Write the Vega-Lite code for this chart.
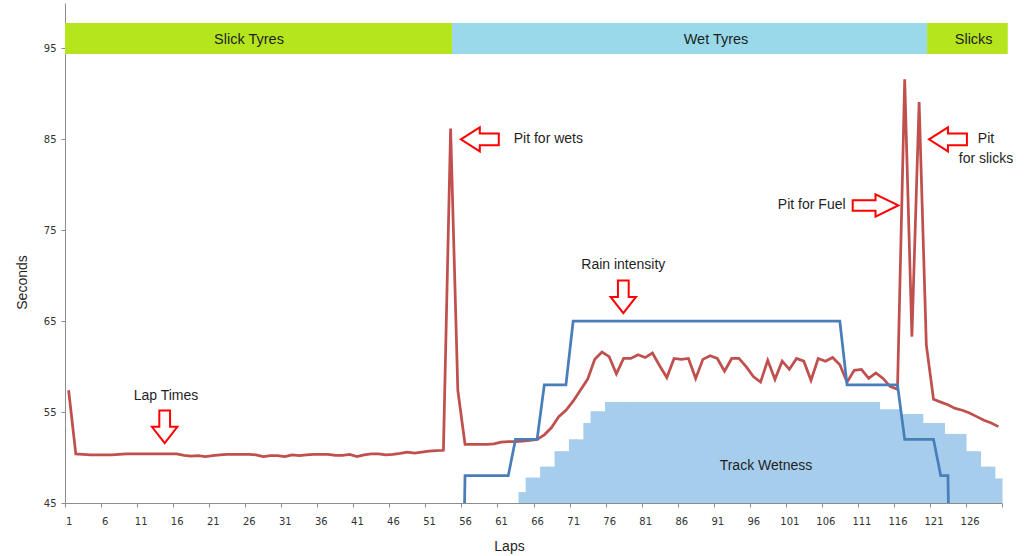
{
  "$schema": "https://vega.github.io/schema/vega-lite/v6.json",
  "width": 937,
  "height": 500,
  "autosize": {"type": "none"},
  "padding": {"left": 65, "top": 3, "right": 23, "bottom": 53},
  "background": "white",
  "config": {"view": {"stroke": null}, "axis": {"grid": false}, "scale": {"continuousPadding": 0}},
  "resolve": {"axis": {"x": "independent", "y": "independent"}},
  "datasets": {
    "laps": [
      {"lap":1,"time":57.4,"rain":0,"wet":null},{"lap":2,"time":50.4,"rain":0,"wet":null},{"lap":3,"time":50.35,"rain":0,"wet":null},{"lap":4,"time":50.3,"rain":0,"wet":null},{"lap":5,"time":50.3,"rain":0,"wet":null},
      {"lap":6,"time":50.3,"rain":0,"wet":null},{"lap":7,"time":50.3,"rain":0,"wet":null},{"lap":8,"time":50.35,"rain":0,"wet":null},{"lap":9,"time":50.4,"rain":0,"wet":null},{"lap":10,"time":50.4,"rain":0,"wet":null},
      {"lap":11,"time":50.4,"rain":0,"wet":null},{"lap":12,"time":50.4,"rain":0,"wet":null},{"lap":13,"time":50.4,"rain":0,"wet":null},{"lap":14,"time":50.4,"rain":0,"wet":null},{"lap":15,"time":50.4,"rain":0,"wet":null},
      {"lap":16,"time":50.4,"rain":0,"wet":null},{"lap":17,"time":50.25,"rain":0,"wet":null},{"lap":18,"time":50.15,"rain":0,"wet":null},{"lap":19,"time":50.2,"rain":0,"wet":null},{"lap":20,"time":50.1,"rain":0,"wet":null},
      {"lap":21,"time":50.2,"rain":0,"wet":null},{"lap":22,"time":50.3,"rain":0,"wet":null},{"lap":23,"time":50.35,"rain":0,"wet":null},{"lap":24,"time":50.35,"rain":0,"wet":null},{"lap":25,"time":50.35,"rain":0,"wet":null},
      {"lap":26,"time":50.35,"rain":0,"wet":null},{"lap":27,"time":50.3,"rain":0,"wet":null},{"lap":28,"time":50.1,"rain":0,"wet":null},{"lap":29,"time":50.2,"rain":0,"wet":null},{"lap":30,"time":50.2,"rain":0,"wet":null},
      {"lap":31,"time":50.1,"rain":0,"wet":null},{"lap":32,"time":50.3,"rain":0,"wet":null},{"lap":33,"time":50.2,"rain":0,"wet":null},{"lap":34,"time":50.3,"rain":0,"wet":null},{"lap":35,"time":50.35,"rain":0,"wet":null},
      {"lap":36,"time":50.35,"rain":0,"wet":null},{"lap":37,"time":50.35,"rain":0,"wet":null},{"lap":38,"time":50.25,"rain":0,"wet":null},{"lap":39,"time":50.25,"rain":0,"wet":null},{"lap":40,"time":50.35,"rain":0,"wet":null},
      {"lap":41,"time":50.1,"rain":0,"wet":null},{"lap":42,"time":50.3,"rain":0,"wet":null},{"lap":43,"time":50.4,"rain":0,"wet":null},{"lap":44,"time":50.4,"rain":0,"wet":null},{"lap":45,"time":50.3,"rain":0,"wet":null},
      {"lap":46,"time":50.35,"rain":0,"wet":null},{"lap":47,"time":50.45,"rain":0,"wet":null},{"lap":48,"time":50.6,"rain":0,"wet":null},{"lap":49,"time":50.5,"rain":0,"wet":null},{"lap":50,"time":50.6,"rain":0,"wet":null},
      {"lap":51,"time":50.7,"rain":0,"wet":null},{"lap":52,"time":50.75,"rain":0,"wet":null},{"lap":53,"time":50.8,"rain":0,"wet":null},{"lap":54,"time":86.2,"rain":0,"wet":null},{"lap":55,"time":57.4,"rain":0,"wet":null},
      {"lap":56,"time":51.45,"rain":48,"wet":null},{"lap":57,"time":51.45,"rain":48,"wet":null},{"lap":58,"time":51.45,"rain":48,"wet":null},{"lap":59,"time":51.45,"rain":48,"wet":null},{"lap":60,"time":51.5,"rain":48,"wet":null},
      {"lap":61,"time":51.7,"rain":48,"wet":null},{"lap":62,"time":51.75,"rain":48,"wet":null},{"lap":63,"time":51.75,"rain":52,"wet":null},{"lap":64,"time":51.8,"rain":52,"wet":46.2},{"lap":65,"time":51.9,"rain":52,"wet":47.8},
      {"lap":66,"time":52.0,"rain":52,"wet":47.8},{"lap":67,"time":52.5,"rain":58,"wet":49.0},{"lap":68,"time":53.3,"rain":58,"wet":49.0},{"lap":69,"time":54.5,"rain":58,"wet":50.7},{"lap":70,"time":55.2,"rain":58,"wet":50.7},
      {"lap":71,"time":56.2,"rain":65,"wet":52.0},{"lap":72,"time":57.4,"rain":65,"wet":52.0},{"lap":73,"time":58.6,"rain":65,"wet":53.8},{"lap":74,"time":60.8,"rain":65,"wet":55.1},{"lap":75,"time":61.6,"rain":65,"wet":55.1},
      {"lap":76,"time":61.1,"rain":65,"wet":56.1},{"lap":77,"time":59.2,"rain":65,"wet":56.1},{"lap":78,"time":60.9,"rain":65,"wet":56.1},{"lap":79,"time":60.9,"rain":65,"wet":56.1},{"lap":80,"time":61.3,"rain":65,"wet":56.1},
      {"lap":81,"time":61.0,"rain":65,"wet":56.1},{"lap":82,"time":61.5,"rain":65,"wet":56.1},{"lap":83,"time":60.1,"rain":65,"wet":56.1},{"lap":84,"time":58.8,"rain":65,"wet":56.1},{"lap":85,"time":60.9,"rain":65,"wet":56.1},
      {"lap":86,"time":60.8,"rain":65,"wet":56.1},{"lap":87,"time":60.9,"rain":65,"wet":56.1},{"lap":88,"time":58.7,"rain":65,"wet":56.1},{"lap":89,"time":60.8,"rain":65,"wet":56.1},{"lap":90,"time":61.2,"rain":65,"wet":56.1},
      {"lap":91,"time":60.9,"rain":65,"wet":56.1},{"lap":92,"time":59.5,"rain":65,"wet":56.1},{"lap":93,"time":60.9,"rain":65,"wet":56.1},{"lap":94,"time":60.9,"rain":65,"wet":56.1},{"lap":95,"time":60.0,"rain":65,"wet":56.1},
      {"lap":96,"time":58.9,"rain":65,"wet":56.1},{"lap":97,"time":58.3,"rain":65,"wet":56.1},{"lap":98,"time":60.7,"rain":65,"wet":56.1},{"lap":99,"time":58.6,"rain":65,"wet":56.1},{"lap":100,"time":60.6,"rain":65,"wet":56.1},
      {"lap":101,"time":59.7,"rain":65,"wet":56.1},{"lap":102,"time":60.9,"rain":65,"wet":56.1},{"lap":103,"time":60.6,"rain":65,"wet":56.1},{"lap":104,"time":58.5,"rain":65,"wet":56.1},{"lap":105,"time":60.9,"rain":65,"wet":56.1},
      {"lap":106,"time":60.6,"rain":65,"wet":56.1},{"lap":107,"time":61.0,"rain":65,"wet":56.1},{"lap":108,"time":60.2,"rain":65,"wet":56.1},{"lap":109,"time":58.3,"rain":58,"wet":56.1},{"lap":110,"time":59.6,"rain":58,"wet":56.1},
      {"lap":111,"time":59.7,"rain":58,"wet":56.1},{"lap":112,"time":58.7,"rain":58,"wet":56.1},{"lap":113,"time":59.3,"rain":58,"wet":56.1},{"lap":114,"time":58.7,"rain":58,"wet":55.3},{"lap":115,"time":57.8,"rain":58,"wet":55.3},
      {"lap":116,"time":57.5,"rain":58,"wet":55.3},{"lap":117,"time":91.6,"rain":52,"wet":54.8},{"lap":118,"time":63.3,"rain":52,"wet":54.8},{"lap":119,"time":89.1,"rain":52,"wet":54.8},{"lap":120,"time":62.4,"rain":52,"wet":53.8},
      {"lap":121,"time":56.4,"rain":52,"wet":53.8},{"lap":122,"time":56.1,"rain":48,"wet":53.8},{"lap":123,"time":55.8,"rain":48,"wet":52.6},{"lap":124,"time":55.4,"rain":0,"wet":52.6},{"lap":125,"time":55.2,"rain":0,"wet":52.6},
      {"lap":126,"time":54.9,"rain":0,"wet":50.7},{"lap":127,"time":54.5,"rain":0,"wet":50.7},{"lap":128,"time":54.1,"rain":0,"wet":49.0},{"lap":129,"time":53.8,"rain":0,"wet":49.0},{"lap":130,"time":53.4,"rain":0,"wet":47.7}
    ],
    "bands": [
      {"tyre":"slick","start":0.5,"end":54.2,"label":"Slick Tyres","mid":26.03},
      {"tyre":"wet","start":54.2,"end":120.1,"label":"Wet Tyres","mid":90.82},
      {"tyre":"slick","start":120.1,"end":131.3,"label":"Slicks","mid":126.57}
    ],
    "notes": [
      {"lap":67.56,"sec":85.0,"text":"Pit for wets"},
      {"lap":77.96,"sec":71.19,"text":"Rain intensity"},
      {"lap":14.51,"sec":56.79,"text":"Lap Times"},
      {"lap":97.75,"sec":49.02,"text":"Track Wetness"},
      {"lap":128.28,"sec":85.03,"text":"Pit"},
      {"lap":128.28,"sec":82.84,"text":"for slicks"},
      {"lap":104.1,"sec":77.78,"text":"Pit for Fuel"}
    ],
    "arrowsLeft": [
      {"lap":58.05,"sec":85.0},
      {"lap":123.0,"sec":85.0}
    ],
    "arrowsDown": [
      {"lap":77.96,"sec":67.67},
      {"lap":14.33,"sec":53.38}
    ],
    "arrowsRight": [
      {"lap":112.95,"sec":77.73}
    ]
  },
  "layer": [
    {
      "data": {"name": "laps"},
      "mark": {"type": "bar", "color": "#A6CEEC", "width": 8.4, "opacity": 1},
      "encoding": {
        "x": {"field": "lap", "type": "quantitative", "scale": {"domain": [0.5, 130.5], "nice": false, "zero": false, "padding": 0},
          "axis": {
            "values": [0.5,5.5,10.5,15.5,20.5,25.5,30.5,35.5,40.5,45.5,50.5,55.5,60.5,65.5,70.5,75.5,80.5,85.5,90.5,95.5,100.5,105.5,110.5,115.5,120.5,125.5,130.5],
            "labelExpr": "datum.value > 130 ? '' : format(datum.value + 0.5, 'd')",
            "labelOffset": 3.6, "labelFlush": false, "labelOverlap": false,
            "labelFont": "DejaVu Sans", "labelFontSize": 10, "labelColor": "#333333", "labelPadding": 9,
            "tickSize": 4, "tickColor": "#8c8c8c", "domainColor": "#8c8c8c",
            "title": "Laps", "titleFont": "Liberation Sans", "titleFontSize": 14, "titleFontWeight": "normal", "titleColor": "#1f1f1f",
            "titleX": 444, "titleY": 43, "titleAlign": "center", "titleBaseline": "middle"
          }},
        "y": {"field": "wet", "type": "quantitative", "scale": {"domain": [45, 100], "nice": false, "zero": false, "padding": 0},
          "axis": {
            "values": [45,55,65,75,85,95],
            "labelFont": "DejaVu Sans", "labelFontSize": 10, "labelColor": "#333333", "labelPadding": 5,
            "tickSize": 4, "tickColor": "#8c8c8c", "domainColor": "#8c8c8c",
            "title": "Seconds", "titleFont": "Liberation Sans", "titleFontSize": 14, "titleFontWeight": "normal", "titleColor": "#1f1f1f",
            "titleX": -43, "titleY": 279, "titleAngle": -90, "titleAlign": "center", "titleBaseline": "middle"
          }},
        "y2": {"datum": 45}
      }
    },
    {
      "data": {"name": "bands"},
      "mark": {"type": "rect", "opacity": 1},
      "encoding": {
        "x": {"field": "start", "type": "quantitative", "scale": {"domain": [0.5, 130.5], "nice": false, "zero": false, "padding": 0}, "axis": null},
        "x2": {"field": "end"},
        "y": {"datum": 97.8, "type": "quantitative", "axis": null},
        "y2": {"datum": 94.4},
        "color": {"field": "tyre", "type": "nominal", "scale": {"domain": ["slick", "wet"], "range": ["#B5E61D", "#99D9EA"]}, "legend": null}
      }
    },
    {
      "data": {"name": "bands"},
      "mark": {"type": "text", "font": "Liberation Sans", "fontSize": 14.5, "color": "#1f1f1f", "align": "center", "baseline": "middle"},
      "encoding": {
        "x": {"field": "mid", "type": "quantitative", "scale": {"domain": [0.5, 130.5], "nice": false, "zero": false, "padding": 0}, "axis": null},
        "y": {"datum": 95.9, "type": "quantitative", "axis": null},
        "text": {"field": "label"}
      }
    },
    {
      "data": {"name": "laps"},
      "mark": {"type": "line", "color": "#C0504D", "strokeWidth": 2.75, "clip": true},
      "encoding": {
        "x": {"field": "lap", "type": "quantitative", "scale": {"domain": [0.5, 130.5], "nice": false, "zero": false, "padding": 0}, "axis": null},
        "y": {"field": "time", "type": "quantitative", "axis": null}
      }
    },
    {
      "data": {"name": "laps"},
      "mark": {"type": "line", "color": "#4A7EBB", "strokeWidth": 2.75, "clip": true},
      "encoding": {
        "x": {"field": "lap", "type": "quantitative", "scale": {"domain": [0.5, 130.5], "nice": false, "zero": false, "padding": 0}, "axis": null},
        "y": {"field": "rain", "type": "quantitative", "axis": null}
      }
    },
    {
      "data": {"name": "notes"},
      "mark": {"type": "text", "font": "Liberation Sans", "fontSize": 14, "color": "#1f1f1f", "align": "center", "baseline": "middle"},
      "encoding": {
        "x": {"field": "lap", "type": "quantitative", "scale": {"domain": [0.5, 130.5], "nice": false, "zero": false, "padding": 0}, "axis": null},
        "y": {"field": "sec", "type": "quantitative", "axis": null},
        "text": {"field": "text"}
      }
    },
    {
      "data": {"name": "arrowsLeft"},
      "mark": {"type": "point", "shape": "M-1,0L0,-0.63L0,-0.31L1,-0.31L1,0.31L0,0.31L0,0.63Z", "size": 1440, "filled": true, "fill": "white", "stroke": "#FF0000", "strokeWidth": 2, "opacity": 1},
      "encoding": {
        "x": {"field": "lap", "type": "quantitative", "scale": {"domain": [0.5, 130.5], "nice": false, "zero": false, "padding": 0}, "axis": null},
        "y": {"field": "sec", "type": "quantitative", "axis": null}
      }
    },
    {
      "data": {"name": "arrowsDown"},
      "mark": {"type": "point", "shape": "M0,1L-0.78,0L-0.33,0L-0.33,-1L0.33,-1L0.33,0L0.78,0Z", "size": 1063, "filled": true, "fill": "white", "stroke": "#FF0000", "strokeWidth": 2, "opacity": 1},
      "encoding": {
        "x": {"field": "lap", "type": "quantitative", "scale": {"domain": [0.5, 130.5], "nice": false, "zero": false, "padding": 0}, "axis": null},
        "y": {"field": "sec", "type": "quantitative", "axis": null}
      }
    },
    {
      "data": {"name": "arrowsRight"},
      "mark": {"type": "point", "shape": "M1,0L0,-0.49L0,-0.23L-1,-0.23L-1,0.23L0,0.23L0,0.49Z", "size": 2079, "filled": true, "fill": "white", "stroke": "#FF0000", "strokeWidth": 2, "opacity": 1},
      "encoding": {
        "x": {"field": "lap", "type": "quantitative", "scale": {"domain": [0.5, 130.5], "nice": false, "zero": false, "padding": 0}, "axis": null},
        "y": {"field": "sec", "type": "quantitative", "axis": null}
      }
    }
  ]
}
